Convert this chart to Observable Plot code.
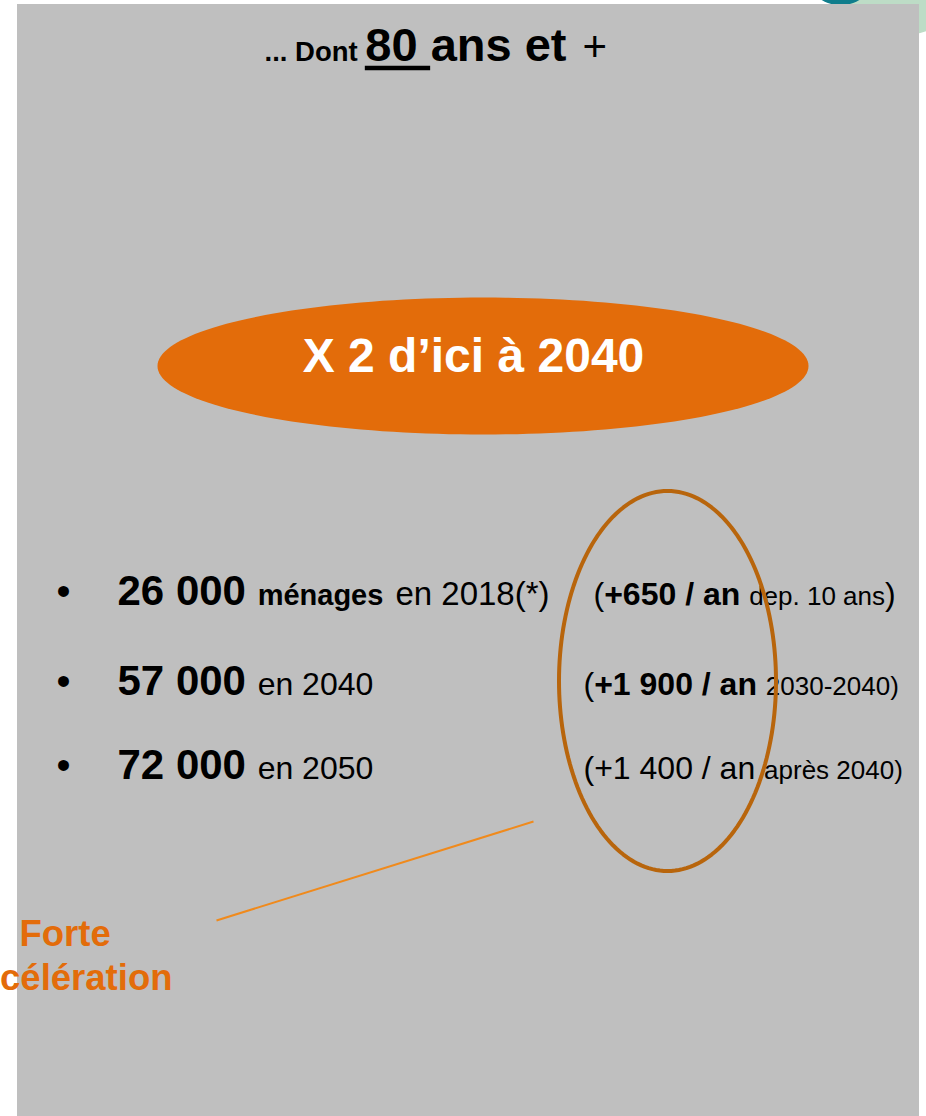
<!DOCTYPE html>
<html>
<head>
<meta charset="utf-8">
<script src="https://cdn.jsdelivr.net/npm/d3@7"></script>
<script src="https://cdn.jsdelivr.net/npm/@observablehq/plot@0.6"></script>
<style>
  html, body { margin: 0; padding: 0; background: #ffffff; }
  #chart svg { display: block; }
</style>
</head>
<body>
<div id="chart"></div>
<script>
// ---- content ----
const titleParts = ["... Dont", "80", "ans et", "+"];
const headline = "X 2 d\u2019ici à 2040";
const counts = ["26 000", "57 000", "72 000"];
const countNotes = [["ménages", "en 2018(*)"], ["", "en 2040"], ["", "en 2050"]];
const rates = ["+650 / an", "+1 900 / an", "+1 400 / an"];
const rateBold = [true, true, false];
const periods = ["dep. 10 ans", "2030-2040", "après 2040"];
const callout = ["Forte", "Accélération"];

// ---- layout ----
const W = 926, H = 1116;
const FONT = "Liberation Sans";
const GRAY = "#bfbfbf", ORANGE = "#e36c0a", BROWN = "#b8650c", LINE = "#f08a1c";
const rowY = [604, 694, 778];

const ctx = document.createElement("canvas").getContext("2d");
function measure(t, s, w) { ctx.font = `${w} ${s}px "${FONT}"`; return ctx.measureText(t).width; }
function layoutRuns(runs, x0, y) {
  let x = x0;
  return runs.map(r => { const o = {...r, x, y}; x += measure(r.t, r.s, r.w) + (r.gap || 0); return o; });
}

const runs = [];
// title
const title = layoutRuns([
  {t: titleParts[0] + " ", s: 27.5, w: "bold", c: "#000"},
  {t: titleParts[1] + " ", s: 47, w: "bold", c: "#000", u: true},
  {t: titleParts[2] + " ", s: 47, w: "bold", c: "#000", gap: 3},
  {t: titleParts[3], s: 42, w: "normal", c: "#000"}
], 264, 60);
runs.push(...title);
const ul = title.find(r => r.u);
const underline = [{y: 67.5, x1: ul.x, x2: ul.x + measure(ul.t, ul.s, ul.w)}];

// bullet rows
counts.forEach((n, i) => {
  runs.push({t: "•", s: 40, w: "normal", c: "#000", x: 56, y: rowY[i]});
  const left = [{t: n + " ", s: 42, w: "bold", c: "#000"}];
  if (countNotes[i][0]) left.push({t: countNotes[i][0] + " ", s: 29, w: "bold", c: "#000", gap: 4});
  left.push({t: countNotes[i][1], s: i === 0 ? 33 : 32, w: "normal", c: "#000"});
  runs.push(...layoutRuns(left, 117, rowY[i]));
  const right = [{t: "(", s: 32, w: "normal", c: "#000"},
    {t: rates[i] + " ", s: 32, w: rateBold[i] ? "bold" : "normal", c: "#000"},
    {t: periods[i], s: 26, w: "normal", c: "#000"},
    {t: ")", s: i === 0 ? 32 : 26, w: "normal", c: "#000"}];
  runs.push(...layoutRuns(right, i === 0 ? 593 : 583, rowY[i]));
});

// ellipses
function ellipse(cx, cy, rx, ry) {
  return d3.range(0, 360, 2).map(a => ({x: cx + rx * Math.cos(a * Math.PI / 180), y: cy + ry * Math.sin(a * Math.PI / 180)}));
}
const orangeEllipse = ellipse(482.5, 365.5, 325.5, 68.5);
const brownEllipse = ellipse(667, 680.5, 108.5, 190);

const textMarks = runs.map(r => Plot.text([r], {
  x: "x", y: "y", text: "t", fontSize: r.s, fontWeight: r.w, fill: r.c,
  textAnchor: "start", lineAnchor: "bottom", fontFamily: FONT
}));

const chart = Plot.plot({
  width: W, height: H, margin: 0,
  x: {domain: [0, W], range: [0, W], axis: null},
  y: {domain: [0, H], range: [0, H], axis: null},
  style: {background: "#ffffff", fontFamily: FONT},
  marks: [
    Plot.dot([{x: 900, y: -45}], {x: "x", y: "y", r: 80, fill: "#bddcc6", stroke: "none"}),
    Plot.dot([{x: 840, y: -30}], {x: "x", y: "y", r: 35, fill: "#0f7d8c", stroke: "none"}),
    Plot.rect([{x1: 17, x2: 919, y1: 4, y2: H}], {x1: "x1", x2: "x2", y1: "y1", y2: "y2", fill: GRAY}),
    Plot.line(orangeEllipse, {x: "x", y: "y", curve: "linear-closed", fill: ORANGE, stroke: "none"}),
    Plot.text([headline], {x: 473, y: 371, text: d => d, fontSize: 48, fontWeight: "bold", fill: "#ffffff", textAnchor: "middle", lineAnchor: "bottom", fontFamily: FONT}),
    Plot.ruleY(underline, {y: "y", x1: "x1", x2: "x2", stroke: "#000", strokeWidth: 4.5}),
    ...textMarks,
    Plot.line(brownEllipse, {x: "x", y: "y", curve: "linear-closed", stroke: BROWN, strokeWidth: 4, fill: "none"}),
    Plot.link([{x1: 216, y1: 920, x2: 533, y2: 821}], {x1: "x1", y1: "y1", x2: "x2", y2: "y2", stroke: LINE, strokeWidth: 2}),
    Plot.text([callout[0]], {x: 19, y: 945, text: d => d, fontSize: 36.5, fontWeight: "bold", fill: ORANGE, textAnchor: "start", lineAnchor: "bottom", fontFamily: FONT}),
    Plot.text([callout[1]], {x: 172, y: 989, text: d => d, fontSize: 36.5, fontWeight: "bold", fill: ORANGE, textAnchor: "end", lineAnchor: "bottom", fontFamily: FONT})
  ]
});
document.getElementById("chart").appendChild(chart);
</script>
</body>
</html>
